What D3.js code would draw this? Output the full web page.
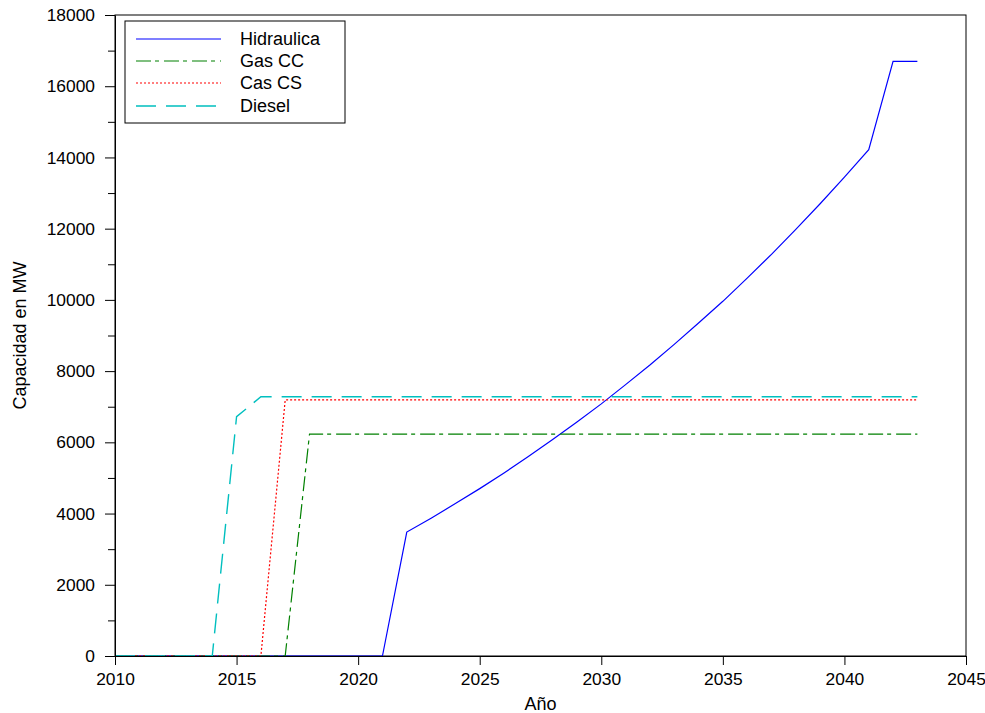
<!DOCTYPE html>
<html>
<head>
<meta charset="utf-8">
<script src="https://cdn.jsdelivr.net/npm/d3@7"></script>
<style>
  html, body { margin: 0; padding: 0; background: #fff; }
  svg { display: block; font-family: "Liberation Sans", Arial, sans-serif; }
</style>
</head>
<body>
<svg id="chart" width="985" height="713"></svg>
<script>
// Installed generating capacity by technology (MW), per year
const years = [2010, 2011, 2012, 2013, 2014, 2015, 2016, 2017, 2018, 2019,
               2020, 2021, 2022, 2023, 2024, 2025, 2026, 2027, 2028, 2029,
               2030, 2031, 2032, 2033, 2034, 2035, 2036, 2037, 2038, 2039,
               2040, 2041, 2042, 2043];

const hidraulica = [0, 0, 0, 0, 0, 0, 0, 0, 0, 0,
                    0, 0, 3480, 3870, 4280, 4700, 5140, 5600, 6080, 6570,
                    7080, 7620, 8170, 8750, 9350, 9960, 10610, 11280, 11980, 12700,
                    13450, 14220, 16700, 16700];

const gasCC = [0, 0, 0, 0, 0, 0, 0, 0, 6230, 6230,
               6230, 6230, 6230, 6230, 6230, 6230, 6230, 6230, 6230, 6230,
               6230, 6230, 6230, 6230, 6230, 6230, 6230, 6230, 6230, 6230,
               6230, 6230, 6230, 6230];

const casCS = [0, 0, 0, 0, 0, 0, 0, 7190, 7190, 7190,
               7190, 7190, 7190, 7190, 7190, 7190, 7190, 7190, 7190, 7190,
               7190, 7190, 7190, 7190, 7190, 7190, 7190, 7190, 7190, 7190,
               7190, 7190, 7190, 7190];

const diesel = [0, 0, 0, 0, 0, 6720, 7280, 7280, 7280, 7280,
                7280, 7280, 7280, 7280, 7280, 7280, 7280, 7280, 7280, 7280,
                7280, 7280, 7280, 7280, 7280, 7280, 7280, 7280, 7280, 7280,
                7280, 7280, 7280, 7280];

const seriesNames = ["Hidraulica", "Gas CC", "Cas CS", "Diesel"];
const seriesValues = [hidraulica, gasCC, casCS, diesel];

const xTicks = [2010, 2015, 2020, 2025, 2030, 2035, 2040, 2045];
const yTicks = [0, 2000, 4000, 6000, 8000, 10000, 12000, 14000, 16000, 18000];
const yMinorTicks = [1000, 3000, 5000, 7000, 9000, 11000, 13000, 15000, 17000];

const xTitle = "Año";
const yTitle = "Capacidad en MW";

// Line styles per series
const styles = [
  { color: "#0000ff", dash: null, width: 1.2 },
  { color: "#008000", dash: "15,4,4,5", width: 1.2 },
  { color: "#ff0000", dash: "2,2", width: 1.2 },
  { color: "#00bfbf", dash: "20,10", width: 1.4 }
];

const svg = d3.select("#chart");
const plotLeft = 115, plotRight = 966, plotTop = 15, plotBottom = 656;

const x = d3.scaleLinear().domain([2010, 2045]).range([plotLeft, plotRight]);
const y = d3.scaleLinear().domain([0, 18000]).range([plotBottom, plotTop]);

// Plot frame
svg.append("rect")
  .attr("x", plotLeft).attr("y", plotTop)
  .attr("width", plotRight - plotLeft).attr("height", plotBottom - plotTop)
  .attr("fill", "none").attr("stroke", "#000").attr("stroke-width", 1);

// Series lines
const line = d3.line()
  .x((d, i) => x(years[i]))
  .y(d => y(d));

seriesValues.forEach((vals, k) => {
  svg.append("path")
    .datum(vals)
    .attr("d", line)
    .attr("fill", "none")
    .attr("stroke", styles[k].color)
    .attr("stroke-width", styles[k].width)
    .attr("stroke-dasharray", styles[k].dash);
});

// Axes
const xAxis = d3.axisBottom(x).tickValues(xTicks).tickFormat(d3.format("d"))
  .tickSize(9).tickPadding(8).tickSizeOuter(0);
const gx = svg.append("g").attr("transform", `translate(0,${plotBottom})`).call(xAxis);

const yAxis = d3.axisLeft(y).tickValues(yTicks).tickFormat(d3.format("d"))
  .tickSize(10).tickPadding(10).tickSizeOuter(0);
const gy = svg.append("g").attr("transform", `translate(${plotLeft},0)`).call(yAxis);

const yMinor = d3.axisLeft(y).tickValues(yMinorTicks).tickFormat("")
  .tickSize(7).tickSizeOuter(0);
svg.append("g").attr("transform", `translate(${plotLeft},0)`).call(yMinor)
  .select(".domain").remove();

[gx, gy].forEach(g => {
  g.selectAll("text").attr("font-size", 17.4).attr("fill", "#000")
    .attr("font-family", "'Liberation Sans', Arial, sans-serif");
  g.select(".domain").attr("stroke", "#000");
});
svg.selectAll(".tick line").attr("stroke", "#000");

// Axis titles
svg.append("text")
  .attr("x", (plotLeft + plotRight) / 2).attr("y", 710)
  .attr("text-anchor", "middle")
  .attr("font-size", 18)
  .text(xTitle);

svg.append("text")
  .attr("transform", `translate(26,${(plotTop + plotBottom) / 2}) rotate(-90)`)
  .attr("text-anchor", "middle")
  .attr("font-size", 18)
  .text(yTitle);

// Legend
const lg = svg.append("g");
lg.append("rect")
  .attr("x", 125).attr("y", 21).attr("width", 220).attr("height", 102)
  .attr("fill", "#fff").attr("stroke", "#000").attr("stroke-width", 1);

const rowY = [39, 61, 83, 106];
seriesNames.forEach((name, k) => {
  lg.append("line")
    .attr("x1", 136).attr("x2", 221)
    .attr("y1", rowY[k]).attr("y2", rowY[k])
    .attr("stroke", styles[k].color)
    .attr("stroke-width", styles[k].width)
    .attr("stroke-dasharray", styles[k].dash);
  lg.append("text")
    .attr("x", 240).attr("y", rowY[k])
    .attr("dy", "0.36em")
    .attr("font-size", 18)
    .text(name);
});
</script>
</body>
</html>
